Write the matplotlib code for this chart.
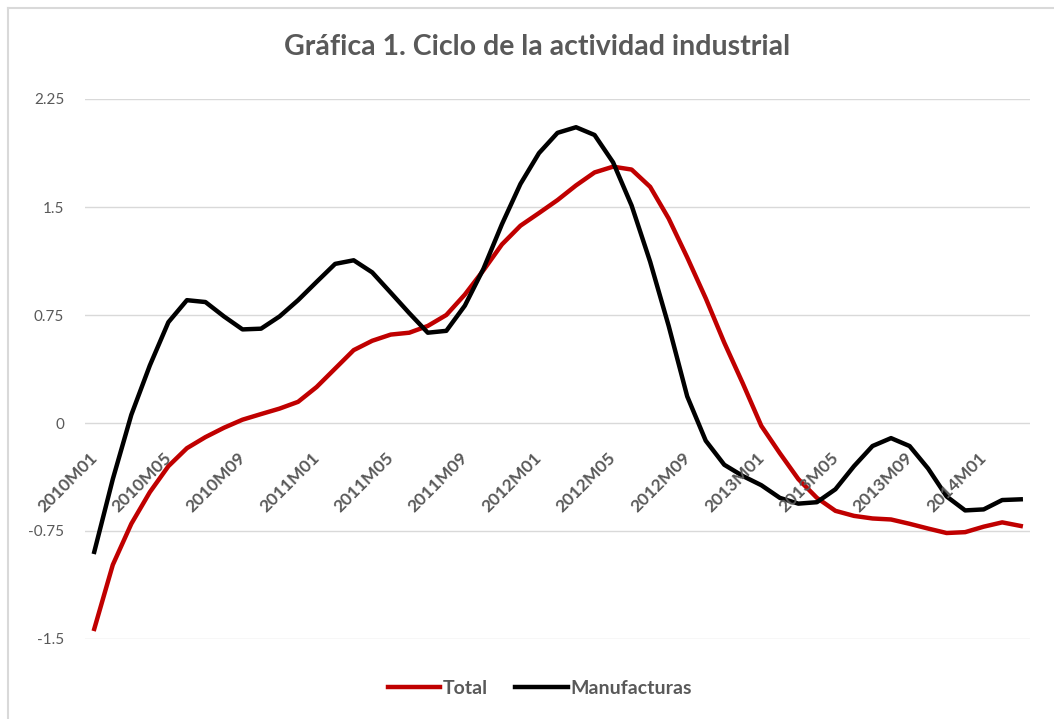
import numpy as np
import matplotlib.pyplot as plt

# monthly series, 2010M01 .. 2014M03
months = ['%dM%02d' % (2010 + k // 12, k % 12 + 1) for k in range(51)]

total = [-1.43, -0.985, -0.70, -0.48, -0.30, -0.175, -0.098, -0.033, 0.023, 0.062,
         0.10, 0.147, 0.25, 0.378, 0.506, 0.571, 0.614, 0.627, 0.674, 0.75,
         0.892, 1.06, 1.24, 1.37, 1.458, 1.548, 1.65, 1.74, 1.78, 1.76,
         1.64, 1.42, 1.15, 0.866, 0.558, 0.275, -0.02, -0.21, -0.39, -0.52,
         -0.61, -0.645, -0.663, -0.67, -0.70, -0.733, -0.764, -0.758, -0.72, -0.69,
         -0.715]

manufacturas = [-0.895, -0.39, 0.057, 0.40, 0.70, 0.853, 0.84, 0.74, 0.65, 0.655,
                0.74, 0.853, 0.98, 1.105, 1.13, 1.046, 0.905, 0.763, 0.627, 0.64,
                0.815, 1.07, 1.38, 1.66, 1.874, 2.015, 2.054, 2.0, 1.81, 1.51,
                1.12, 0.674, 0.185, -0.123, -0.29, -0.368, -0.432, -0.52, -0.56, -0.55,
                -0.46, -0.30, -0.16, -0.105, -0.16, -0.316, -0.51, -0.607, -0.60, -0.535,
                -0.53]

yticks = [-1.5, -0.75, 0, 0.75, 1.5, 2.25]
ytick_labels = ['-1.5', '-0.75', '0', '0.75', '1.5', '2.25']

grey = '#595959'
plt.rcParams['font.family'] = ['Lato', 'DejaVu Sans']

W, H = 1054, 719
fig = plt.figure(figsize=(W / 100, H / 100), dpi=100)

# light chart border (top / left)
fig.add_artist(plt.Line2D([8 / W, 8 / W], [0, 1 - 8 / H], color='#d9d9d9', lw=1.5))
fig.add_artist(plt.Line2D([8 / W, 1], [1 - 8 / H, 1 - 8 / H], color='#d9d9d9', lw=1.5))

ax = fig.add_axes([85 / W, 1 - 639 / H, 945 / W, 540 / H])
x = np.arange(len(months))
ax.plot(x, total, color='#c00000', lw=3.2, label='Total', solid_joinstyle='round')
ax.plot(x, manufacturas, color='black', lw=3.2, label='Manufacturas', solid_joinstyle='round')

ax.set_xlim(-0.5, len(months) - 0.5)
ax.set_ylim(-1.5, 2.25)
ax.set_yticks(yticks)
ax.set_yticklabels(ytick_labels, color=grey, fontsize=11)
ax.tick_params(axis='y', length=0, pad=15)
ax.set_xticks([])
ax.grid(axis='y', color='#d9d9d9', lw=1)
ax.set_axisbelow(True)
for s in ax.spines.values():
    s.set_visible(False)

# category labels sit next to the zero axis
for i in range(0, len(months), 4):
    ax.annotate(months[i], (i, 0), xytext=(6, -27), textcoords='offset pixels',
                rotation=45, ha='right', va='top', fontsize=12.5,
                fontweight='bold', color=grey)

fig.text(537 / W, 1 - 47 / H, 'Gráfica 1. Ciclo de la actividad industrial',
         ha='center', va='center', fontsize=20.5, fontweight='bold', color=grey)

leg = fig.legend(loc='center', bbox_to_anchor=(540 / W, 1 - 688 / H), ncol=2,
                 frameon=False, handlelength=2.7, columnspacing=1.4, handletextpad=0.15,
                 prop={'weight': 'bold', 'size': 14})
for t in leg.get_texts():
    t.set_color(grey)

fig.savefig('out.png', dpi=100, facecolor='white')
